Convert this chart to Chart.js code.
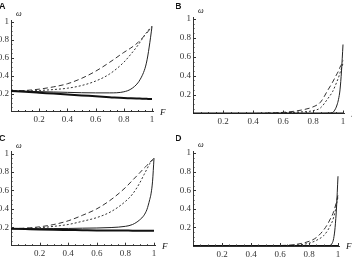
<!DOCTYPE html>
<html>
<head>
<meta charset="utf-8">
<script src="https://cdn.jsdelivr.net/npm/chart.js@4"></script>
<style>
  html, body { margin: 0; padding: 0; background: #fff; }
  #wrap { position: relative; width: 352px; height: 264px; overflow: hidden; }
  .cell { position: absolute; width: 176px; height: 132px; overflow: hidden; }
  .cell canvas { display: block; }
</style>
</head>
<body>
<div id="wrap">
  <div class="cell" style="left:0;top:0"><canvas id="cA" width="176" height="132"></canvas></div>
  <div class="cell" style="left:176px;top:0"><canvas id="cB" width="176" height="132"></canvas></div>
  <div class="cell" style="left:0;top:132px"><canvas id="cC" width="176" height="132"></canvas></div>
  <div class="cell" style="left:176px;top:132px"><canvas id="cD" width="176" height="132"></canvas></div>
</div>
<script>
// shared x grid (F)
const fValues = [0, 0.1, 0.2, 0.3, 0.4, 0.5, 0.6, 0.7, 0.8, 0.85, 0.9, 0.93, 0.95, 0.96, 0.97, 0.98, 0.99, 1];
const tickLabels = [0.2, 0.4, 0.6, 0.8, 1];
const minorTicks = [0.05, 0.1, 0.15, 0.25, 0.3, 0.35, 0.45, 0.5, 0.55, 0.65, 0.7, 0.75, 0.85, 0.9, 0.95];

// panel A
const aThick  = [0.23, 0.22, 0.21, 0.2, 0.19, 0.18, 0.17, 0.16, 0.15, 0.148, 0.145, 0.143, 0.142, 0.142, 0.141, 0.141, 0.14, 0.14];
const aThin   = [0.23, 0.226, 0.222, 0.218, 0.214, 0.21, 0.208, 0.208, 0.22, 0.25, 0.32, 0.4, 0.48, 0.54, 0.62, 0.72, 0.83, 0.95];
const aDotted = [0.23, 0.23, 0.235, 0.245, 0.26, 0.29, 0.34, 0.42, 0.55, 0.64, 0.74, 0.81, 0.86, 0.88, 0.9, 0.92, 0.935, 0.95];
const aDashed = [0.23, 0.235, 0.25, 0.275, 0.31, 0.37, 0.45, 0.55, 0.66, 0.71, 0.77, 0.82, 0.85, 0.87, 0.89, 0.91, 0.93, 0.95];

// panel B
const bThick  = [0, 0, 0, 0, 0, 0, 0, 0, 0, 0, 0, 0, 0, 0, 0, 0, 0, 0];
const bThin   = [0, 0, 0, 0, 0, 0, 0, 0, 0, 0, 0.002, 0.01, 0.05, 0.09, 0.15, 0.25, 0.45, 0.73];
const bDotted = [0, 0, 0, 0, 0, 0.003, 0.008, 0.015, 0.03, 0.06, 0.16, 0.23, 0.3, 0.34, 0.38, 0.43, 0.48, 0.53];
const bDashed = [0, 0, 0, 0, 0, 0.003, 0.012, 0.03, 0.07, 0.12, 0.25, 0.33, 0.39, 0.42, 0.45, 0.49, 0.52, 0.56];

// panel C
const cThick  = [0.185, 0.18, 0.175, 0.172, 0.17, 0.168, 0.166, 0.165, 0.164, 0.163, 0.163, 0.163, 0.163, 0.163, 0.163, 0.163, 0.163, 0.163];
const cThin   = [0.185, 0.185, 0.185, 0.186, 0.187, 0.19, 0.192, 0.197, 0.21, 0.23, 0.28, 0.33, 0.39, 0.44, 0.5, 0.57, 0.7, 0.95];
const cDotted = [0.185, 0.188, 0.195, 0.21, 0.23, 0.265, 0.305, 0.37, 0.48, 0.56, 0.68, 0.77, 0.83, 0.86, 0.89, 0.91, 0.93, 0.95];
const cDashed = [0.185, 0.19, 0.205, 0.23, 0.27, 0.33, 0.4, 0.5, 0.63, 0.71, 0.79, 0.84, 0.87, 0.89, 0.9, 0.92, 0.935, 0.95];

// panel D
const dThick  = [0, 0, 0, 0, 0, 0, 0, 0, 0, 0, 0, 0, 0, 0, 0, 0, 0, 0];
const dThin   = [0, 0, 0, 0, 0, 0, 0, 0, 0, 0, 0, 0.002, 0.01, 0.03, 0.08, 0.2, 0.42, 0.75];
const dDotted = [0, 0, 0, 0, 0, 0, 0.003, 0.008, 0.03, 0.06, 0.11, 0.17, 0.23, 0.26, 0.31, 0.37, 0.45, 0.53];
const dDashed = [0, 0, 0, 0, 0, 0, 0.005, 0.015, 0.05, 0.09, 0.17, 0.24, 0.3, 0.33, 0.37, 0.42, 0.48, 0.55];

// geometry of each panel inside its 176x132 cell
const panels = [
  { id: 'cA', letter: 'A', x0: 11, xk: 141, y0: 111.5, y1: 22, series: [aThick, aThin, aDotted, aDashed] },
  { id: 'cB', letter: 'B', x0: 17, xk: 150, y0: 113.5, y1: 19, series: [bThick, bThin, bDotted, bDashed] },
  { id: 'cC', letter: 'C', x0: 11, xk: 143, y0: 113.7, y1: 21.5, series: [cThick, cThin, cDotted, cDashed] },
  { id: 'cD', letter: 'D', x0: 17, xk: 145, y0: 114, y1: 21, series: [dThick, dThin, dDotted, dDashed] },
];

const styles = [
  { borderWidth: 2, borderColor: '#111', borderDash: [] },
  { borderWidth: 1, borderColor: '#222', borderDash: [] },
  { borderWidth: 1, borderColor: '#333', borderDash: [2, 2] },
  { borderWidth: 1, borderColor: '#333', borderDash: [5, 3] },
];

const tickFont = { family: '"Liberation Serif", "Times New Roman", serif', size: 9 };
const fmt = v => String(v);

const decor = {
  id: 'decor',
  afterDraw(chart, args, opts) {
    const ctx = chart.ctx;
    const xs = chart.scales.x, ys = chart.scales.y;
    const ax = xs.getPixelForValue(0), ay = ys.getPixelForValue(0);
    ctx.save();
    ctx.strokeStyle = '#333';
    ctx.lineWidth = 1;
    ctx.beginPath();
    tickLabels.forEach(v => {
      const px = Math.round(xs.getPixelForValue(v)) + 0.5;
      ctx.moveTo(px, ay); ctx.lineTo(px, ay - 3);
      const py = Math.round(ys.getPixelForValue(v)) + 0.5;
      ctx.moveTo(ax, py); ctx.lineTo(ax + 3, py);
    });
    minorTicks.forEach(v => {
      const px = Math.round(xs.getPixelForValue(v)) + 0.5;
      ctx.moveTo(px, ay); ctx.lineTo(px, ay - 1.5);
      const py = Math.round(ys.getPixelForValue(v)) + 0.5;
      ctx.moveTo(ax, py); ctx.lineTo(ax + 1.5, py);
    });
    ctx.stroke();
    ctx.fillStyle = '#111';
    ctx.textBaseline = 'middle';
    ctx.textAlign = 'left';
    ctx.font = 'bold 9px "Liberation Sans", Arial, sans-serif';
    ctx.fillText(opts.letter, -1, 7);
    ctx.font = 'italic 8px "Liberation Serif", "Times New Roman", serif';
    ctx.fillText('\u03c9', ax + 5, ys.getPixelForValue(1) - 8);
    ctx.font = 'italic 9px "Liberation Serif", "Times New Roman", serif';
    ctx.fillText('F', xs.getPixelForValue(1) + 8, ay + 1);
    ctx.restore();
  }
};

panels.forEach(p => {
  const xMax = 1.01, yMax = 1.02;
  const top = p.y1 - (yMax - 1) * (p.y0 - p.y1);
  const right = 176 - (p.x0 + p.xk * xMax);
  new Chart(document.getElementById(p.id), {
    type: 'line',
    data: {
      datasets: p.series.map((vals, i) => ({
        data: fValues.map((f, j) => ({ x: f, y: vals[j] })),
        borderWidth: styles[i].borderWidth,
        borderColor: styles[i].borderColor,
        borderDash: styles[i].borderDash,
        pointRadius: 0,
        fill: false,
        clip: 0,
        cubicInterpolationMode: 'monotone',
      })),
    },
    plugins: [decor],
    options: {
      responsive: false,
      animation: false,
      events: [],
      layout: { padding: { top: top, right: right, left: 0, bottom: 0 } },
      plugins: { legend: { display: false }, tooltip: { enabled: false }, decor: { letter: p.letter } },
      scales: {
        x: {
          type: 'linear', min: 0, max: xMax,
          afterFit: s => { s.height = 132 - p.y0; },
          afterBuildTicks: s => { s.ticks = tickLabels.map(v => ({ value: v })); },
          grid: { display: true, drawOnChartArea: false, drawTicks: false },
          border: { display: true, color: '#333', width: 1 },
          ticks: { padding: 3, color: '#333', maxRotation: 0, autoSkip: false, font: tickFont, callback: fmt },
        },
        y: {
          type: 'linear', min: 0, max: yMax,
          afterFit: s => { s.width = p.x0; },
          afterBuildTicks: s => { s.ticks = tickLabels.map(v => ({ value: v })); },
          grid: { display: true, drawOnChartArea: false, drawTicks: false },
          border: { display: true, color: '#333', width: 1 },
          ticks: { padding: 2, color: '#333', autoSkip: false, font: tickFont, callback: fmt },
        },
      },
    },
  });
});
</script>
</body>
</html>
